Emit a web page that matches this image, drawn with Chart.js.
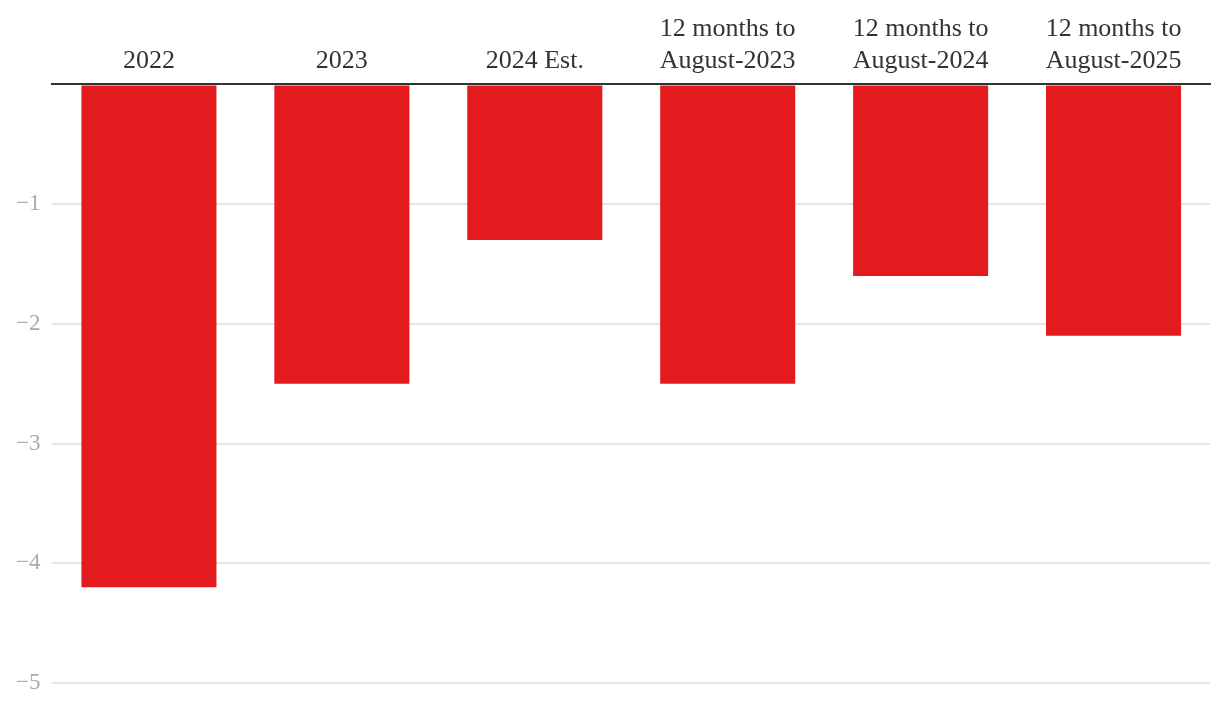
<!DOCTYPE html>
<html>
<head>
<meta charset="utf-8">
<script src="https://cdn.jsdelivr.net/npm/chart.js@4"></script>
<style>
  html, body { margin: 0; padding: 0; background: #fff; }
  #wrap { width: 1220px; height: 716px; }
</style>
</head>
<body>
<div id="wrap"><canvas id="balanceChart"></canvas></div>
<script>
const categories = [
  '2022',
  '2023',
  '2024 Est.',
  ['12 months to', 'August-2023'],
  ['12 months to', 'August-2024'],
  ['12 months to', 'August-2025']
];
const values = [-4.2, -2.5, -1.3, -2.5, -1.6, -2.1];
const yTicks = [0, -1, -2, -3, -4, -5];

const ctx = document.getElementById('balanceChart').getContext('2d');
const chart = new Chart(ctx, {
  type: 'bar',
  data: {
    labels: categories,
    datasets: [{
      data: values,
      backgroundColor: '#e31b1e',
      borderWidth: 0,
      barPercentage: 0.7,
      categoryPercentage: 1.0
    }]
  },
  options: {
    responsive: true,
    maintainAspectRatio: false,
    animation: false,
    layout: { padding: { top: 6, right: 10, bottom: 33, left: 4 } },
    plugins: {
      legend: { display: false },
      tooltip: { enabled: false }
    },
    scales: {
      x: {
        position: 'top',
        grid: { display: false, drawTicks: false },
        border: { display: true, color: '#333', width: 2 },
        ticks: {
          color: '#333',
          padding: 8,
          maxRotation: 0,
          font: { family: 'Liberation Serif', size: 26 },
          lineHeight: 1.23
        }
      },
      y: {
        min: -5,
        max: 0,
        afterBuildTicks: axis => { axis.ticks = yTicks.map(v => ({ value: v })); },
        grid: { color: '#e5e5e5', lineWidth: 2, drawTicks: false },
        border: { display: false },
        ticks: {
          color: '#aaa',
          padding: 12,
          font: { family: 'Liberation Serif', size: 23 },
          callback: v => v === 0 ? '' : String(v).replace('-', '\u2212')
        }
      }
    }
  }
});
</script>
</body>
</html>
